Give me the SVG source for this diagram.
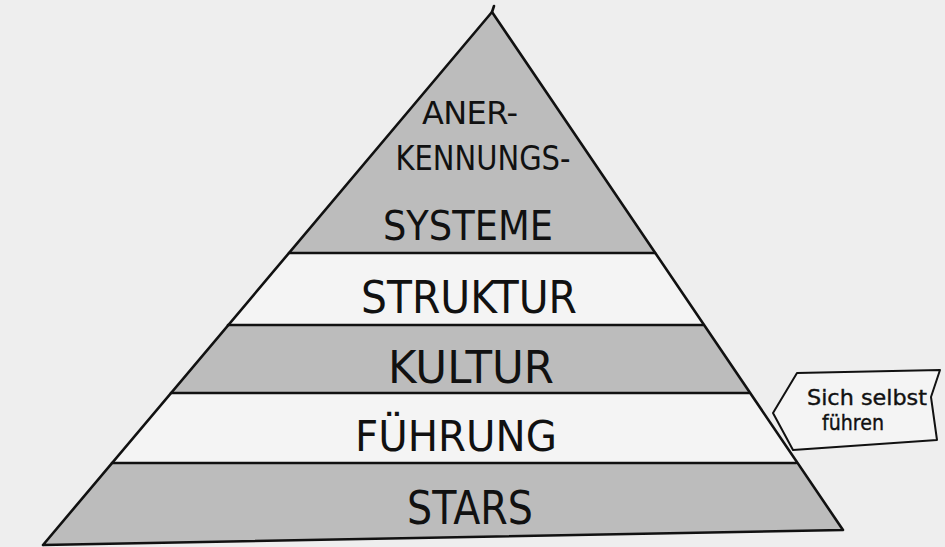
<svg xmlns="http://www.w3.org/2000/svg" width="945" height="547" viewBox="0 0 945 547">
<style>
.bg{fill:#eeeeee}
.gray{fill:#bcbcbc}
.white{fill:#f4f4f4}
.ln{fill:none;stroke:#111;stroke-width:2.6;stroke-linecap:round;stroke-linejoin:round}
.thin{fill:none;stroke:#111;stroke-width:2;stroke-linecap:round;stroke-linejoin:round}
.lbl{font-family:"DejaVu Sans","Liberation Sans",sans-serif;font-weight:normal;fill:#111;text-anchor:middle}
.hand{font-family:"DejaVu Sans","Liberation Sans",sans-serif;fill:#111;stroke:#111;stroke-width:0.4;text-anchor:middle}
</style>
<rect class="bg" x="0" y="0" width="945" height="547"/>
<g id="pyramid">
  <g id="anerkennungssysteme">
    <polygon class="gray" points="492,12 655,253 289,253"/>
    <text class="lbl" x="470" y="124" font-size="32" textLength="96" lengthAdjust="spacing">ANER-</text>
    <text class="lbl" x="483" y="170" font-size="33" textLength="175" lengthAdjust="spacingAndGlyphs">KENNUNGS-</text>
    <text class="lbl" x="468" y="240" font-size="40" textLength="170" lengthAdjust="spacingAndGlyphs">SYSTEME</text>
  </g>
  <g id="struktur">
    <polygon class="white" points="289,253 655,253 703,325 228,325"/>
    <text class="lbl" x="469" y="313" font-size="44" textLength="216" lengthAdjust="spacingAndGlyphs">STRUKTUR</text>
  </g>
  <g id="kultur">
    <polygon class="gray" points="228,325 703,325 749,393 171,393"/>
    <text class="lbl" x="471" y="383" font-size="44" textLength="166" lengthAdjust="spacingAndGlyphs">KULTUR</text>
  </g>
  <g id="fuehrung">
    <polygon class="white" points="171,393 749,393 796,463 112,463"/>
    <text class="lbl" x="456" y="451" font-size="42" textLength="202" lengthAdjust="spacingAndGlyphs">FÜHRUNG</text>
  </g>
  <g id="stars">
    <polygon class="gray" points="112,463 796,463 843,530 43,545"/>
    <text class="lbl" x="470" y="524" font-size="46" textLength="126" lengthAdjust="spacingAndGlyphs">STARS</text>
  </g>
</g>
<g id="callout">
  <polygon fill="#f4f4f4" points="797,373 940,370 933,395 937,440 793,450 773,413"/>
  <path class="thin" d="M797,373 L940,370 L931,397 L937,440 L793,450 L773,413 Z"/>
  <text class="hand" x="867" y="405" font-size="22" textLength="120" lengthAdjust="spacingAndGlyphs">Sich selbst</text>
  <text class="hand" x="853" y="430" font-size="22" textLength="62" lengthAdjust="spacingAndGlyphs">führen</text>
</g>
<g id="connectors">
  <path class="ln" d="M43,545 L492,12 L843,530 L43,545"/>
  <path class="ln" d="M289,253 L655,253"/>
  <path class="ln" d="M228,325 L703,325"/>
  <path class="ln" d="M171,393 L749,393"/>
  <path class="ln" d="M112,463 L796,463"/>
  <path class="ln" d="M492,12 L494,6"/>
</g>
</svg>
